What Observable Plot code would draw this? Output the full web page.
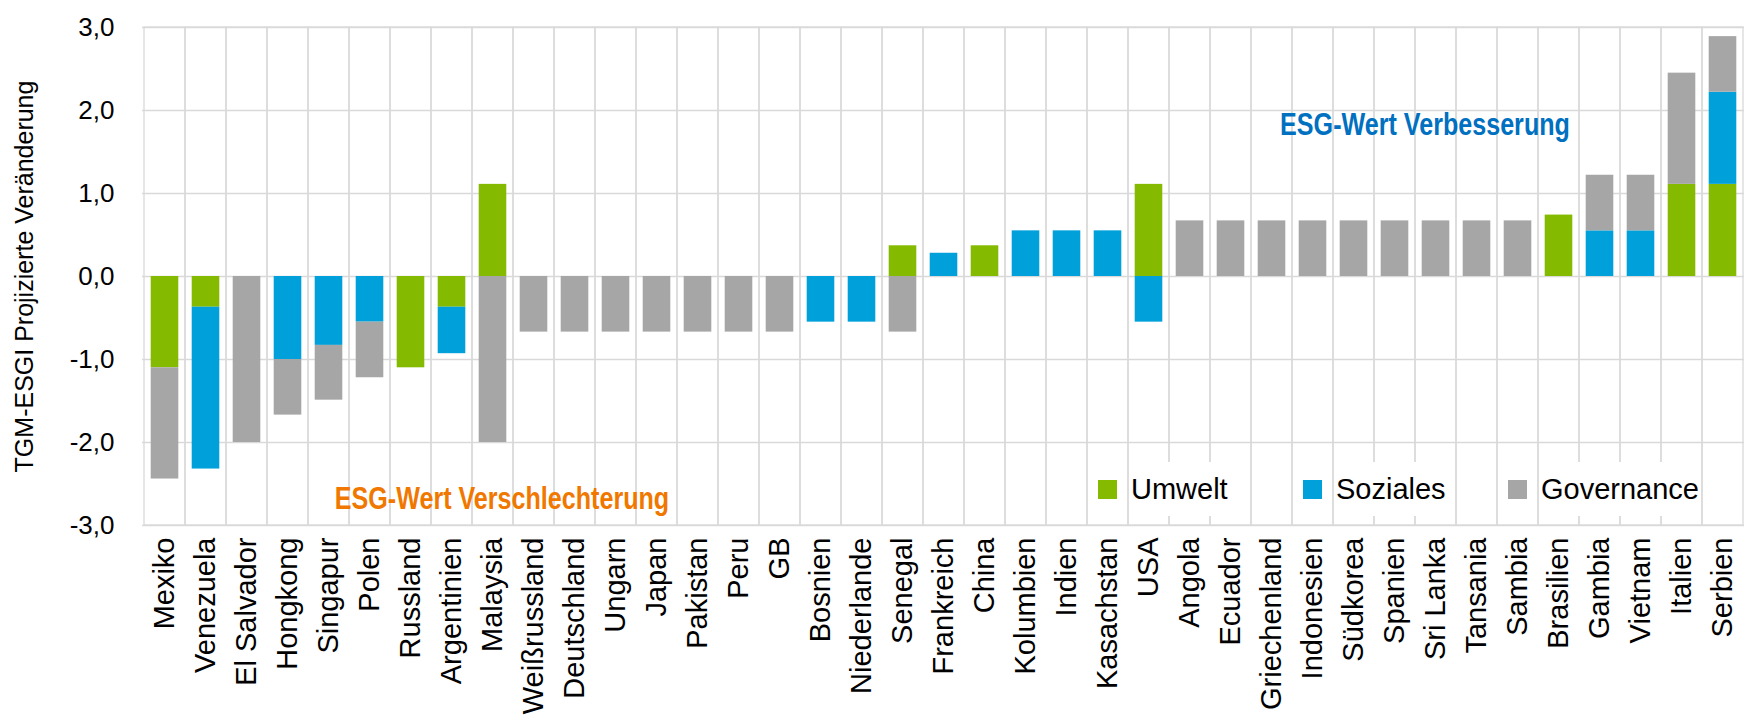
<!DOCTYPE html>
<html>
<head>
<meta charset="utf-8">
<script src="https://cdn.jsdelivr.net/npm/d3@7"></script>
<script src="https://cdn.jsdelivr.net/npm/@observablehq/plot@0.6"></script>
<style>
  body { margin: 0; background: #fff; }
  #chart { position: relative; width: 1750px; height: 721px; font-family: "Liberation Sans", Arial, sans-serif; color: #000; }
  #legend { position: absolute; left: 1098px; top: 462px; }
  #legend .esg-swatches { font-family: "Liberation Sans", Arial, sans-serif; font-size: 29px; margin: 0; min-height: 0; }
  #legend .esg-swatch { width: 205px; margin-right: 0 !important; height: 54px; }
  #legend .esg-swatch svg { margin-right: 14px !important; }
  #legend .lbl { background: #fff; line-height: 54px; display: inline-block; }
</style>
</head>
<body>
<div id="chart"></div>
<script>
// Countries, ordered from strongest deterioration to strongest improvement
const countries = [
  "Mexiko", "Venezuela", "El Salvador", "Hongkong", "Singapur", "Polen", "Russland",
  "Argentinien", "Malaysia", "Weißrussland", "Deutschland", "Ungarn", "Japan",
  "Pakistan", "Peru", "GB", "Bosnien", "Niederlande", "Senegal", "Frankreich", "China",
  "Kolumbien", "Indien", "Kasachstan", "USA", "Angola", "Ecuador", "Griechenland",
  "Indonesien", "Südkorea", "Spanien", "Sri Lanka", "Tansania", "Sambia", "Brasilien",
  "Gambia", "Vietnam", "Italien", "Serbien"
];

// Projected change per pillar (E, S, G)
const umwelt = [
  -1.10, -0.37, 0, 0, 0, 0, -1.10,
  -0.37, 1.11, 0, 0, 0, 0,
  0, 0, 0, 0, 0, 0.37, 0, 0.37,
  0, 0, 0, 1.11, 0, 0, 0,
  0, 0, 0, 0, 0, 0, 0.74,
  0, 0, 1.11, 1.11
];
const soziales = [
  0, -1.95, 0, -1.00, -0.83, -0.55, 0,
  -0.56, 0, 0, 0, 0, 0,
  0, 0, 0, -0.55, -0.55, 0, 0.28, 0,
  0.55, 0.55, 0.55, -0.55, 0, 0, 0,
  0, 0, 0, 0, 0, 0, 0,
  0.55, 0.55, 0, 1.11
];
const governance = [
  -1.34, 0, -2.00, -0.67, -0.66, -0.67, 0,
  0, -2.00, -0.67, -0.67, -0.67, -0.67,
  -0.67, -0.67, -0.67, 0, 0, -0.67, 0, 0,
  0, 0, 0, 0, 0.67, 0.67, 0.67,
  0.67, 0.67, 0.67, 0.67, 0.67, 0.67, 0,
  0.67, 0.67, 1.34, 0.67
];

const seriesNames = ["Umwelt", "Soziales", "Governance"];
const seriesColors = ["#84BA00", "#00A0DA", "#A6A6A6"];
const yTicks = [-3, -2, -1, 0, 1, 2, 3];

// Long table: one row per country and pillar, pillar order fixes the stacking order
const rows = countries.flatMap((country, i) =>
  [umwelt, soziales, governance].map((vals, k) => ({ country, series: seriesNames[k], value: vals[i] }))
).filter(d => d.value !== 0);

const fmt = d => d.toFixed(1).replace(".", ",");
const gridColor = "#D9D9D9";
const noteFont = "'Liberation Sans', Arial, sans-serif";

const chart = Plot.plot({
  width: 1750,
  height: 721,
  marginLeft: 142,
  marginRight: 6,
  marginTop: 27,
  marginBottom: 196,
  style: { fontFamily: "'Liberation Sans', Arial, sans-serif", background: "#fff", color: "#000", overflow: "visible" },
  x: { domain: countries, padding: 0 },
  y: { domain: [-3, 3] },
  color: { domain: seriesNames, range: seriesColors },
  marks: [
    // cell borders act as vertical gridlines between categories
    Plot.barY(countries, { x: d => d, y1: -3, y2: 3, fill: "none", stroke: gridColor, strokeWidth: 1.3 }),
    Plot.ruleY(yTicks, { stroke: gridColor, strokeWidth: 1.3 }),
    Plot.barY(rows, { x: "country", y: "value", fill: "series", insetLeft: 6.7, insetRight: 6.7 }),
    Plot.axisX({ tickRotate: -90, tickSize: 0, tickPadding: 12, fontSize: 29, label: null }),
    Plot.axisY({ ticks: yTicks, tickSize: 0, tickPadding: 28, fontSize: 26, tickFormat: fmt, label: null }),
    Plot.axisY({
      ticks: [], tickSize: 0, fontSize: 25,
      label: "TGM-ESGI Projizierte Veränderung", labelAnchor: "center", labelArrow: "none", labelOffset: 127
    }),
    Plot.text(["ESG-Wert Verbesserung"], {
      x: () => "Sri Lanka", y: () => 1.82, dx: -11, text: d => d,
      fill: "#0070C0", fontWeight: "bold", fontSize: 31, fontFamily: noteFont
    }),
    Plot.text(["ESG-Wert Verschlechterung"], {
      x: () => "Malaysia", y: () => -2.677, dx: 9, text: d => d,
      fill: "#F07800", fontWeight: "bold", fontSize: 31, fontFamily: noteFont
    })
  ]
});

const host = document.getElementById("chart");
host.appendChild(chart);

// The two notes are set in a condensed bold cut: squeeze the glyphs horizontally
chart.querySelectorAll("text").forEach(t => {
  if (t.textContent.startsWith("ESG-Wert")) {
    const len = t.getComputedTextLength();
    t.setAttribute("textLength", (len * 0.81).toFixed(1));
    t.setAttribute("lengthAdjust", "spacingAndGlyphs");
  }
});

// Swatch legend laid over the lower right of the plot area
const legend = chart.legend("color", { swatchSize: 19, className: "esg" });
const legendBox = document.createElement("div");
legendBox.id = "legend";
legendBox.appendChild(legend);
host.appendChild(legendBox);
legend.querySelectorAll(".esg-swatch").forEach(item => {
  Array.from(item.childNodes).forEach(node => {
    if (node.nodeType === 3 || (node.nodeType === 1 && node.tagName.toLowerCase() === "span")) {
      const span = document.createElement("span");
      span.className = "lbl";
      span.textContent = node.textContent;
      item.replaceChild(span, node);
    }
  });
});
</script>
</body>
</html>
